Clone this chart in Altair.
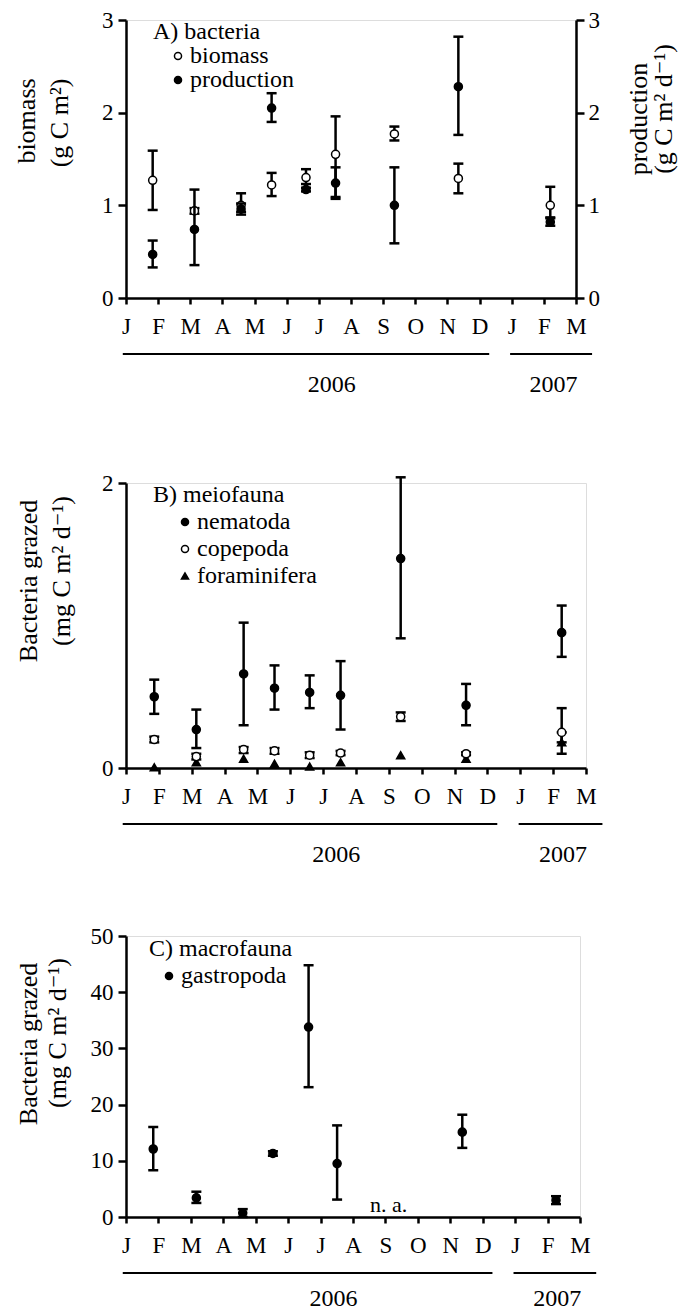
import altair as alt
import pandas as pd

FONT = "Liberation Serif, Times New Roman, Times, DejaVu Serif, serif"
MONTHS = ["J", "F", "M", "A", "M", "J", "J", "A", "S", "O", "N", "D", "J", "F", "M"]

# Years under the month axis (month index: 0 = Jan 2006)
YEARS = ["2006", "2007"]
YEAR_CENTER = [6.4, 13.3]
YEAR_START = [-0.1, 11.95]
YEAR_END = [11.3, 14.5]

# ---------------- Panel A: bacteria ----------------
A_MONTH = [0.83, 2.13, 3.58, 4.53, 5.60, 6.52, 8.35, 10.34, 13.20]
A_BIO = [1.27, 0.94, 1.00, 1.22, 1.30, 1.55, 1.77, 1.29, 1.00]
A_BIO_LO = [0.95, 0.91, 0.93, 1.10, 1.23, 1.09, 1.70, 1.13, 0.87]
A_BIO_HI = [1.59, 0.97, 1.13, 1.35, 1.39, 1.96, 1.85, 1.45, 1.20]
A_PROD = [0.47, 0.74, 0.96, 2.05, 1.17, 1.24, 1.00, 2.28, 0.82]
A_PROD_LO = [0.33, 0.355, 0.90, 1.90, 1.15, 1.07, 0.59, 1.76, 0.78]
A_PROD_HI = [0.62, 1.17, 1.02, 2.21, 1.19, 1.41, 1.41, 2.82, 0.86]

# ---------------- Panel B: meiofauna ----------------
B_MONTH = [0.86, 2.14, 3.58, 4.52, 5.59, 6.53, 8.36, 10.35, 13.26]
B_NEM = [0.50, 0.27, 0.66, 0.56, 0.53, 0.51, 1.47, 0.44, 0.95]
B_NEM_LO = [0.38, 0.14, 0.30, 0.41, 0.42, 0.27, 0.91, 0.30, 0.78]
B_NEM_HI = [0.62, 0.41, 1.02, 0.72, 0.65, 0.75, 2.04, 0.59, 1.14]
B_COP = [0.20, 0.08, 0.13, 0.12, 0.09, 0.105, 0.36, 0.10, 0.25]
B_COP_LO = [0.18, 0.06, 0.105, 0.10, 0.07, 0.09, 0.33, 0.09, 0.18]
B_COP_HI = [0.22, 0.10, 0.147, 0.14, 0.11, 0.12, 0.39, 0.11, 0.42]
B_FOR = [0.005, 0.04, 0.065, 0.03, 0.01, 0.04, 0.09, 0.065, 0.18]
B_FOR_LO = [None, None, None, None, None, None, None, None, 0.10]
B_FOR_HI = [None, None, None, None, None, None, None, None, 0.25]

# ---------------- Panel C: macrofauna ----------------
C_MONTH = [0.84, 2.17, 3.60, 4.53, 5.63, 6.51, 10.37, 13.26]
C_GAS = [12.1, 3.4, 0.7, 11.3, 33.8, 9.5, 15.1, 3.0]
C_GAS_LO = [8.3, 2.5, 0.0, 10.9, 23.1, 3.1, 12.3, 2.3]
C_GAS_HI = [16.0, 4.5, 1.4, 11.7, 44.8, 16.3, 18.2, 3.7]
NA_TEXT = ["n. a."]
NA_MONTH = [8.1]
NA_Y = [0.9]

# Axis titles (two lines each)
A_LEFT_TITLE = ["biomass", "(g C m²)"]
A_RIGHT_TITLE = ["production", "(g C m² d⁻¹)"]
GRAZED_TITLE = ["Bacteria grazed", "(mg C m² d⁻¹)"]

LW = 2.5
TICK_FS = 23
TITLE_FS = 26
LEG_FS = 24

month_expr = "[" + ",".join("'%s'" % m for m in MONTHS) + "][round(datum.value)]"
xscale = alt.Scale(domain=[0, len(MONTHS) - 1], nice=False, zero=False)
xaxis = alt.Axis(values=list(range(len(MONTHS))), labelExpr=month_expr, title=None,
                 grid=False, domainWidth=LW, domainColor="black", tickWidth=LW,
                 tickColor="black", tickSize=6, labelFont=FONT, labelFontSize=TICK_FS,
                 labelColor="black", labelPadding=11, labelFlush=False)


def yaxis(values, orient="left"):
    return alt.Axis(values=values, orient=orient, title=None, grid=False, format="d",
                    domainWidth=LW, domainColor="black", tickWidth=LW, tickColor="black",
                    tickSize=8, labelFont=FONT, labelFontSize=TICK_FS, labelColor="black",
                    labelPadding=5 if orient == "left" else 4)


def legend(title, x, y, offset, label_offset, row_pad, title_pad):
    return alt.Legend(title=title, orient="none", legendX=x, legendY=y, padding=0,
                      titleFont=FONT, titleFontSize=LEG_FS, titleFontWeight="normal",
                      titleColor="black", titlePadding=title_pad, titleAnchor="start",
                      labelFont=FONT, labelFontSize=LEG_FS, labelColor="black",
                      labelOffset=label_offset, symbolOffset=offset, symbolSize=50,
                      symbolStrokeColor="black", symbolStrokeWidth=1.5,
                      rowPadding=row_pad, offset=0)


def series(df, yscale, axis, leg, shape_scale, fill_scale, size=65):
    names = shape_scale.domain
    stroke_scale = alt.Scale(domain=names, range=["black"] * len(names))
    base = alt.Chart(df).encode(x=alt.X("month:Q", scale=xscale, axis=xaxis))
    y_lo = alt.Y("lo:Q", scale=yscale, axis=axis)
    rule = base.mark_rule(strokeWidth=LW, color="black").encode(y=y_lo, y2="hi:Q")
    cap_lo = base.mark_tick(orient="horizontal", size=10, thickness=LW,
                            color="black", opacity=1).encode(y=y_lo)
    cap_hi = base.mark_tick(orient="horizontal", size=10, thickness=LW,
                            color="black", opacity=1).encode(
        y=alt.Y("hi:Q", scale=yscale, axis=axis))
    pts = base.mark_point(opacity=1, strokeWidth=1.5, size=size).encode(
        y=alt.Y("value:Q", scale=yscale, axis=axis),
        shape=alt.Shape("series:N", scale=shape_scale, legend=leg),
        fill=alt.Fill("series:N", scale=fill_scale, legend=leg),
        stroke=alt.Stroke("series:N", scale=stroke_scale, legend=leg))
    return [rule, cap_lo, cap_hi, pts]


def frame(month, value, lo, hi, name):
    return pd.DataFrame({"month": month, "value": value, "lo": lo, "hi": hi,
                         "series": [name] * len(month)})


years_df = pd.DataFrame({"year": YEARS, "center": YEAR_CENTER,
                         "start": YEAR_START, "end": YEAR_END})


def year_layers(h, spacer=0, text_offset=94):
    bars = alt.Chart(years_df).mark_rule(strokeWidth=2, color="black").encode(
        x=alt.X("start:Q", scale=xscale, axis=xaxis), x2="end:Q", y=alt.value(h + 56))
    txt = alt.Chart(years_df).mark_text(font=FONT, fontSize=TICK_FS + 1, color="black",
                                        baseline="alphabetic").encode(
        x=alt.X("center:Q", scale=xscale, axis=xaxis), text="year:N",
        y=alt.value(h + text_offset))
    out = [bars, txt]
    if spacer:
        out.append(alt.Chart(years_df).mark_rule(opacity=0, strokeOpacity=0).encode(
            x=alt.value(0), y=alt.value(h), y2=alt.value(h + spacer)))
    return out


def title_layers(lines, xs, ys):
    out = []
    for line, x, y in zip(lines, xs, ys):
        out.append(alt.Chart(years_df.head(1)).mark_text(
            font=FONT, fontSize=TITLE_FS, color="black", angle=270,
            align="center", baseline="middle").encode(
            x=alt.value(x), y=alt.value(y), text=alt.value(line)))
    return out


# ---- Panel A ----
WA, HA = 450, 278
a_names = ["biomass", "production"]
a_shape = alt.Scale(domain=a_names, range=["circle", "circle"])
a_fill = alt.Scale(domain=a_names, range=["white", "black"])
a_leg = legend("A) bacteria", 27, 0, 13, 0, 0, 0)
a_y = alt.Scale(domain=[0, 3], nice=False)
bio_df = frame(A_MONTH, A_BIO, A_BIO_LO, A_BIO_HI, "biomass")
prod_df = frame(A_MONTH, A_PROD, A_PROD_LO, A_PROD_HI, "production")
left = alt.layer(*series(bio_df, a_y, yaxis([0, 1, 2, 3]), a_leg, a_shape, a_fill))
right = alt.layer(*series(prod_df, a_y, yaxis([0, 1, 2, 3], orient="right"),
                          a_leg, a_shape, a_fill))
panel_a = alt.layer(
    left, right, *year_layers(HA, spacer=116),
    *title_layers(A_LEFT_TITLE, [-99, -66], [101, 103]),
    *title_layers(A_RIGHT_TITLE, [WA + 63, WA + 88], [99, 89]),
).resolve_scale(y="independent").properties(width=WA, height=HA)

# ---- Panel B ----
WB, HB = 460, 285
b_names = ["nematoda", "copepoda", "foraminifera"]
b_shape = alt.Scale(domain=b_names, range=["circle", "circle", "triangle-up"])
b_fill = alt.Scale(domain=b_names, range=["black", "white", "black"])
b_leg = legend("B) meiofauna", 27, 0, 20, 0, 3, 3)
b_y = alt.Scale(domain=[0, 2], nice=False)
b_axis = yaxis([0, 1, 2])
b_layers = []
for df in [frame(B_MONTH, B_FOR, B_FOR_LO, B_FOR_HI, "foraminifera"),
           frame(B_MONTH, B_COP, B_COP_LO, B_COP_HI, "copepoda"),
           frame(B_MONTH, B_NEM, B_NEM_LO, B_NEM_HI, "nematoda")]:
    b_layers += series(df, b_y, b_axis, b_leg, b_shape, b_fill)
panel_b = alt.layer(
    *b_layers, *year_layers(HB),
    *title_layers(GRAZED_TITLE, [-97, -64], [98, 88]),
).properties(width=WB, height=HB)

# ---- Panel C ----
WC, HC = 454, 281
c_names = ["gastropoda"]
c_shape = alt.Scale(domain=c_names, range=["circle"])
c_fill = alt.Scale(domain=c_names, range=["black"])
c_leg = legend("C) macrofauna", 23, 1, 8, 0, 2, 3)
c_y = alt.Scale(domain=[0, 50], nice=False)
c_axis = yaxis([0, 10, 20, 30, 40, 50])
c_layers = series(frame(C_MONTH, C_GAS, C_GAS_LO, C_GAS_HI, "gastropoda"),
                  c_y, c_axis, c_leg, c_shape, c_fill)
na_df = pd.DataFrame({"label": NA_TEXT, "month": NA_MONTH, "y": NA_Y})
na_txt = alt.Chart(na_df).mark_text(font=FONT, fontSize=22, color="black",
                                    baseline="alphabetic").encode(
    x=alt.X("month:Q", scale=xscale, axis=xaxis),
    y=alt.Y("y:Q", scale=c_y, axis=c_axis), text="label:N")
panel_c = alt.layer(
    *c_layers, na_txt, *year_layers(HC, text_offset=89),
    *title_layers(GRAZED_TITLE, [-97, -68], [108, 97]),
).properties(width=WC, height=HC)

chart = alt.vconcat(panel_a, panel_b, panel_c, spacing=56).resolve_scale(
    shape="independent", fill="independent", stroke="independent",
    x="independent", y="independent"
).properties(
    padding={"left": 5, "top": 0, "right": 0, "bottom": 0}
).configure_view(stroke=None).configure(background="white")

chart.save("out.html", embed_options={"renderer": "svg", "actions": False})
